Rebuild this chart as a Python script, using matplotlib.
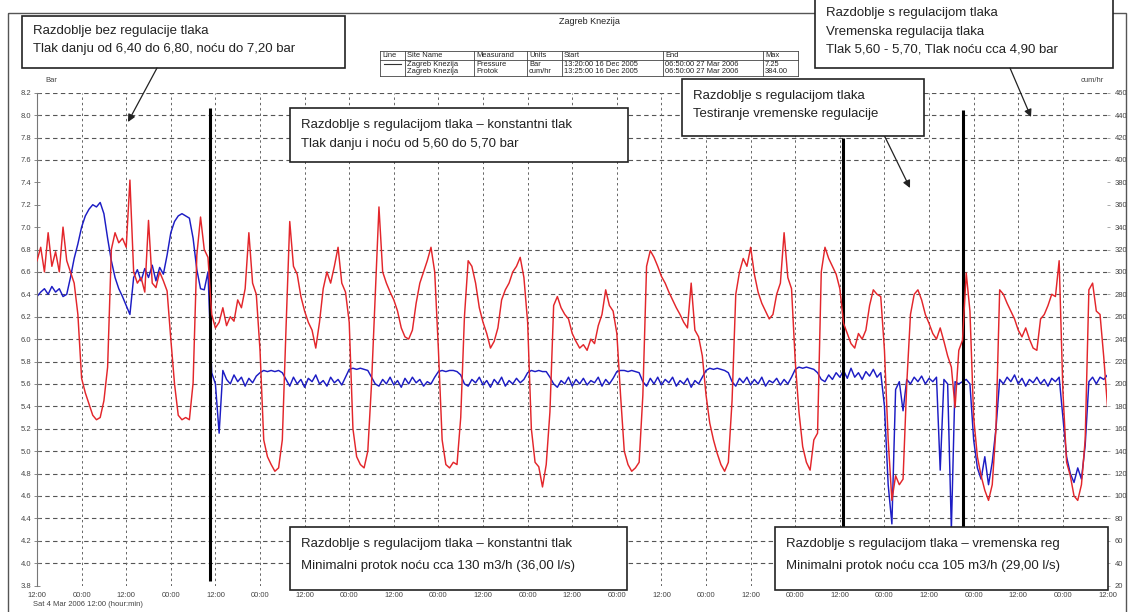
"""
Zagreb Knezija - tlak (Bar) i protok (cum/hr), 4. - 16. ozujka 2006.
"""
import numpy as np
import matplotlib
matplotlib.use('Agg')
from matplotlib import pyplot as plt
import matplotlib.dates as mdates
from matplotlib.patches import Rectangle

plt.rcParams['font.family'] = ['Liberation Sans', 'DejaVu Sans']

START = np.datetime64('2006-03-04T12:00')

# hourly readings from Sat 4 Mar 2006 12:00, one row = 12 hours
PRESSURE = [
    6.38, 6.42, 6.45, 6.40, 6.47, 6.42, 6.45, 6.38, 6.40, 6.55, 6.72, 6.85,
    7.00, 7.10, 7.16, 7.20, 7.18, 7.22, 7.12, 6.90, 6.70, 6.55, 6.45, 6.38,
    6.30, 6.22, 6.55, 6.62, 6.52, 6.63, 6.55, 6.66, 6.52, 6.64, 6.58, 6.75,
    6.95, 7.05, 7.10, 7.12, 7.10, 7.08, 6.90, 6.62, 6.45, 6.44, 6.60, 5.70,
    5.60, 5.16, 5.72, 5.64, 5.60, 5.68, 5.62, 5.66, 5.58, 5.65, 5.61, 5.67,
    5.70, 5.72, 5.71, 5.72, 5.71, 5.72, 5.70, 5.64, 5.58, 5.66, 5.60, 5.64,
    5.57, 5.65, 5.62, 5.68, 5.60, 5.63, 5.58, 5.66, 5.61, 5.64, 5.59, 5.66,
    5.73, 5.74, 5.73, 5.74, 5.73, 5.72, 5.66, 5.60, 5.58, 5.64, 5.60, 5.66,
    5.59, 5.63, 5.57, 5.65, 5.60, 5.66, 5.61, 5.64, 5.58, 5.62, 5.60, 5.66,
    5.71, 5.72, 5.71, 5.72, 5.72, 5.71, 5.68, 5.60, 5.58, 5.64, 5.61, 5.66,
    5.59, 5.63, 5.57, 5.64, 5.60, 5.66, 5.58, 5.63, 5.60, 5.65, 5.61, 5.64,
    5.70, 5.72, 5.71, 5.72, 5.71, 5.71, 5.66, 5.60, 5.57, 5.63, 5.60, 5.66,
    5.58, 5.64, 5.60, 5.65, 5.59, 5.63, 5.61, 5.66, 5.58, 5.64, 5.60, 5.65,
    5.71, 5.72, 5.72, 5.71, 5.72, 5.71, 5.70, 5.62, 5.58, 5.65, 5.60, 5.66,
    5.59, 5.64, 5.61, 5.66, 5.58, 5.63, 5.60, 5.65, 5.57, 5.63, 5.60, 5.66,
    5.72, 5.74, 5.73, 5.74, 5.73, 5.72, 5.70, 5.62, 5.58, 5.65, 5.61, 5.66,
    5.59, 5.64, 5.60, 5.66, 5.58, 5.63, 5.61, 5.65, 5.59, 5.64, 5.60, 5.66,
    5.73, 5.75, 5.74, 5.75, 5.74, 5.73, 5.70, 5.64, 5.62, 5.68, 5.64, 5.70,
    5.66, 5.72, 5.65, 5.74, 5.66, 5.70, 5.64, 5.71, 5.67, 5.73, 5.66, 5.70,
    5.40, 4.70, 4.35, 5.55, 5.62, 5.36, 5.64, 5.60, 5.66, 5.62, 5.67, 5.60,
    5.65, 5.62, 5.66, 4.83, 5.64, 5.60, 4.30, 5.62, 5.60, 5.62, 5.64, 5.60,
    5.10, 4.85, 4.75, 4.95, 4.70, 4.90, 5.20, 5.64, 5.60, 5.66, 5.62, 5.68,
    5.60, 5.65, 5.58, 5.64, 5.61, 5.66, 5.60, 5.64, 5.58, 5.65, 5.62, 5.66,
    5.30, 4.95, 4.80, 4.72, 4.85, 4.75, 5.05, 5.62, 5.66, 5.60, 5.66, 5.64,
    5.68,
]

FLOW = [
    310, 322, 300, 335, 305, 318, 300, 340, 310, 300, 290, 262,
    205, 192, 182, 172, 168, 170, 185, 215, 320, 335, 326, 330,
    322, 382, 300, 290, 295, 282, 346, 290, 286, 300, 292, 283,
    240, 200, 172, 168, 170, 168, 201, 315, 349, 320, 313, 262,
    250, 255, 268, 252, 260, 256, 275, 268, 285, 335, 290, 280,
    230, 150, 135, 128, 122, 125, 150, 250, 345, 305, 298, 278,
    265, 255, 248, 232, 255, 285, 300, 290, 305, 322, 290, 282,
    255, 160, 135, 128, 125, 140, 200, 280, 358, 300, 290, 282,
    275, 265, 250, 242, 240, 248, 272, 290, 300, 310, 322, 300,
    230, 150, 128, 125, 130, 128, 170, 260, 310, 305, 290, 268,
    255, 245, 232, 238, 250, 275, 284, 290, 300, 305, 313, 295,
    255, 160, 130, 126, 108, 128, 175, 270, 278, 268, 262, 258,
    245, 238, 232, 235, 230, 240, 236, 252, 262, 284, 270, 265,
    245, 190, 140, 128, 122, 125, 130, 190, 305, 319, 313, 305,
    296, 290, 282, 275, 268, 262, 255, 250, 290, 248, 242, 225,
    190, 165, 150, 138, 128, 122, 130, 185, 280, 300, 312, 305,
    322, 298, 282, 272, 265, 258, 262, 280, 290, 335, 295, 285,
    220, 175, 144, 130, 123, 150, 156, 300, 322, 312, 305, 298,
    285, 254, 245, 236, 232, 245, 240, 248, 270, 284, 280, 278,
    230, 150, 96, 118, 110, 115, 200, 262, 280, 284, 275, 262,
    254, 245, 240, 250, 238, 225, 215, 179, 230, 239, 299, 265,
    170, 135, 118, 105, 96, 110, 160, 284, 280, 272, 265, 258,
    248, 242, 250, 240, 232, 230, 258, 262, 270, 280, 278, 310,
    194, 130, 118, 100, 96, 110, 150, 284, 290, 265, 262, 224,
    180,
]

# period boundaries (hours from start) and the bar range each marker spans
PERIOD_HOURS = [46.5, 216.8, 249.1]
PERIOD_SPAN = [(3.84, 8.06), (4.32, 7.80), (4.32, 8.05)]

BOX_TEXTS = {
    'bez': ['Razdoblje bez regulacije tlaka',
            'Tlak danju od 6,40 do 6,80, noću do 7,20 bar'],
    'konst': ['Razdoblje s regulacijom tlaka – konstantni tlak',
              'Tlak danju i noću od 5,60 do 5,70 bar'],
    'vrem': ['Razdoblje s regulacijom tlaka',
             'Vremenska regulacija tlaka',
             'Tlak 5,60 - 5,70, Tlak noću cca 4,90 bar'],
    'test': ['Razdoblje s regulacijom tlaka',
             'Testiranje vremenske regulacije'],
    'konst_min': ['Razdoblje s regulacijom tlaka – konstantni tlak',
                  'Minimalni protok noću cca 130 m3/h (36,00 l/s)'],
    'vrem_min': ['Razdoblje s regulacijom tlaka – vremenska reg',
                 'Minimalni protok noću cca 105 m3/h (29,00 l/s)'],
}

TABLE_HEAD = ['Line', 'Site Name', 'Measurand', 'Units', 'Start', 'End', 'Max']
TABLE_ROWS = [
    ['', 'Zagreb Knezija', 'Pressure', 'Bar', '13:20:00 16 Dec 2005',
     '06:50:00 27 Mar 2006', '7.25'],
    ['', 'Zagreb Knezija', 'Protok', 'cum/hr', '13:25:00 16 Dec 2005',
     '06:50:00 27 Mar 2006', '384.00'],
]

RED = '#e3262b'
BLUE = '#1c1cc4'
TXT = '#222222'

times = START + np.arange(len(PRESSURE)) * np.timedelta64(1, 'h')

fig = plt.figure(figsize=(11.28, 6.12), dpi=100)
ax = fig.add_axes([0.0328, 0.0433, 0.9490, 0.8052])
ax2 = ax.twinx()

ax.set_xlim(times[0], times[-1])
ax.set_ylim(3.8, 8.2)
ax2.set_ylim(20, 460)

# horizontal grid - the plotter left out 7.0 .. 7.4
for lev in np.round(np.arange(4.0, 8.21, 0.2), 1):
    if 6.9 < lev < 7.5:
        continue
    ax.axhline(lev, color='#555555', lw=0.8, ls=(0, (4, 3)), zorder=0.5)
ax.xaxis.grid(True, color='#666666', lw=0.7, ls=(0, (2.5, 3)), zorder=0.5)

ax.plot(times, PRESSURE, color=BLUE, lw=1.05, zorder=2)
ax2.plot(times, FLOW, color=RED, lw=1.05, zorder=2)

for hrs, (y0, y1) in zip(PERIOD_HOURS, PERIOD_SPAN):
    t = START + np.timedelta64(int(hrs * 60), 'm')
    ax.vlines(t, y0, y1, color='black', lw=2.2, zorder=3)

ax.xaxis.set_major_locator(mdates.HourLocator(byhour=[0, 12]))
ax.xaxis.set_major_formatter(mdates.DateFormatter('%H:%M'))
ax.set_yticks(np.round(np.arange(3.8, 8.21, 0.2), 1))
ax.yaxis.set_major_formatter(plt.FormatStrFormatter('%.1f'))
ax2.set_yticks(np.arange(20, 461, 20))

for a in (ax, ax2):
    for s in a.spines.values():
        s.set_visible(False)
ax.spines['left'].set_visible(True)
ax.spines['left'].set_color('#777777')
ax.spines['left'].set_linewidth(0.8)

ax.tick_params(axis='x', length=0, labelsize=5.5, labelcolor='#444444', pad=5)
ax.tick_params(axis='y', direction='inout', length=4, width=0.6, color='#777777',
               labelsize=5.5, labelcolor='#444444', pad=2)
ax2.tick_params(axis='y', direction='out', length=2, width=0.5, color='#888888',
                labelsize=5.5, labelcolor='#444444', pad=3)

# overlay in pixel coordinates for frame, notes and the legend table
ov = fig.add_axes([0, 0, 1, 1])
ov.set_xlim(0, 1128)
ov.set_ylim(612, 0)
ov.axis('off')
ov.patch.set_visible(False)

ov.add_patch(Rectangle((8, 13), 1118, 640, fill=False, ec='#555555', lw=1.0))

ov.text(45, 80, 'Bar', fontsize=5.5, color='#444444', ha='left', va='center')
ov.text(1092, 80, 'cum/hr', fontsize=5.5, color='#444444', ha='center', va='center')
ov.text(33, 604, 'Sat 4 Mar 2006 12:00 (hour:min)', fontsize=5.5,
        color='#444444', ha='left', va='center')

# title and table
ov.text(589, 21, 'Zagreb Knezija', fontsize=6.5, color=TXT, ha='center', va='center')
cols = [380, 405, 474, 527, 562, 663, 763, 798]
rows = [51, 60, 76]
for ry in rows:
    ov.plot([cols[0], cols[-1]], [ry, ry], color='#444444', lw=0.6)
for cx in cols:
    ov.plot([cx, cx], [rows[0], rows[2]], color='#444444', lw=0.6)
for cx, name in zip(cols, TABLE_HEAD):
    ov.text(cx + 2, 55.5, name, fontsize=5.4, color=TXT, va='center')
for ri, row in enumerate(TABLE_ROWS):
    for cx, val in zip(cols, row):
        ov.text(cx + 2, 64 + ri * 7.5, val, fontsize=5.4, color=TXT, va='center')
ov.plot([384, 401], [64, 64], color='#333333', lw=0.8)


def note(x0, y0, x1, y1, lines, ys):
    """white framed note with left aligned lines"""
    ov.add_patch(Rectangle((x0, y0), x1 - x0, y1 - y0, fc='white', ec='#222222',
                           lw=1.2, zorder=3))
    for line, y in zip(lines, ys):
        ov.text(x0 + 11, y, line, fontsize=9.5, color=TXT, ha='left',
                va='center', zorder=4)


def arrow(start, tip):
    ov.annotate('', xy=tip, xytext=start,
                arrowprops=dict(arrowstyle='-|>', color='#222222', lw=0.9,
                                mutation_scale=11, shrinkA=0, shrinkB=0))


note(22, 16, 345, 68, BOX_TEXTS['bez'], [31, 49])
note(290, 108, 628, 162, BOX_TEXTS['konst'], [125, 144])
note(815, -12, 1113, 68, BOX_TEXTS['vrem'], [13, 32, 50])
note(682, 79, 924, 136, BOX_TEXTS['test'], [96, 114])
note(290, 527, 627, 590, BOX_TEXTS['konst_min'], [544, 566])
note(775, 527, 1108, 590, BOX_TEXTS['vrem_min'], [544, 566])

arrow((157, 68), (128, 122))
arrow((885, 137), (910, 188))
arrow((1010, 68), (1031, 117))

fig.savefig('out.png', dpi=100)
